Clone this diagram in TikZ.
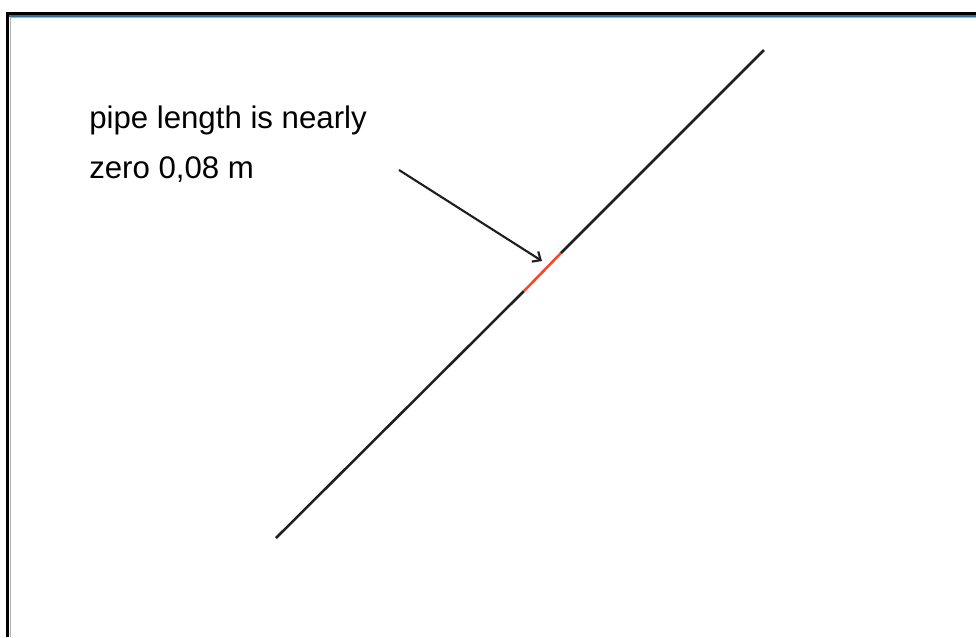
\documentclass[tikz,border=0pt]{standalone}
\usepackage{fontspec}
\setmainfont{Liberation Sans}
\usetikzlibrary{arrows.meta}
\definecolor{pipered}{HTML}{FF4422}
\definecolor{frameblue}{HTML}{2F6FA6}

\begin{document}
\begin{tikzpicture}[
  x=0.75pt,y=-0.75pt,
  pipe/.style={line width=1.9pt,black!88},
  zero/.style={line width=1.9pt,pipered},
  ar/.style={-{Straight Barb[length=5pt,width=9pt,line width=1.6pt]},line width=1.6pt,black!88},
  lab/.style={inner sep=0pt,align=left,font=\fontsize{23.4}{37.2}\selectfont}]

 \useasboundingbox (0,0) rectangle (976,637);

 % ---- frame ----
 \draw[line width=1.6pt] (7.5,637) -- (7.5,13.5) -- (976,13.5);
 \draw[frameblue,line width=1.2pt] (9,15.8) -- (976,15.8);
 \draw[black!30,line width=1pt] (10.3,637) -- (10.3,17.5) -- (976,17.5);

 % ---- pipe ----
 \coordinate (pipeA) at (276,538);
 \coordinate (redA) at (524,291);
 \coordinate (redB) at (561,253);
 \coordinate (pipeB) at (764,50);
 \draw[pipe] (pipeA) -- (redA);
 \draw[zero] (redA) -- (redB);
 \draw[pipe] (redB) -- (pipeB);

 % ---- note ----
 \node[lab,anchor=north west] (note) at (89,106) {pipe length is nearly\\zero 0,08 m};
 \coordinate (arrS) at (399,170);
 \coordinate (arrE) at (542,261);
 \draw[ar] (arrS) -- (arrE);
\end{tikzpicture}
\end{document}
